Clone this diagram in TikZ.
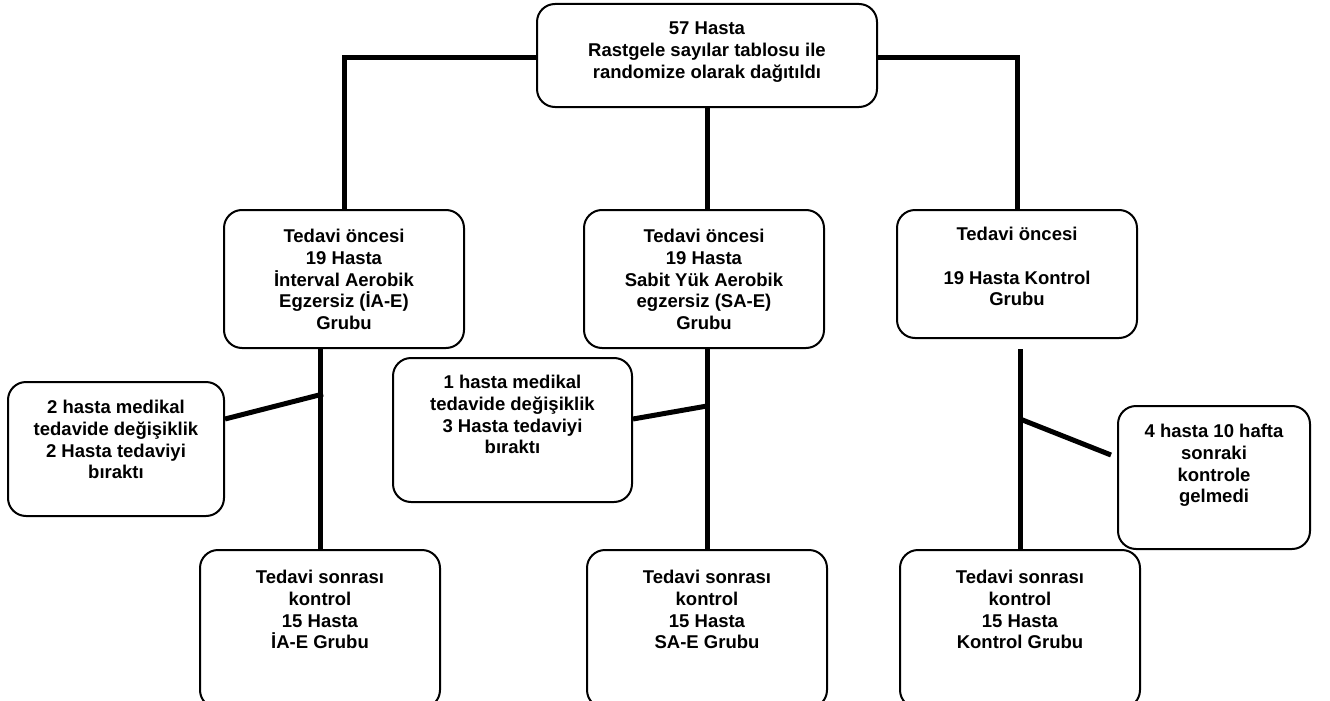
\documentclass[tikz,border=0pt]{standalone}
\usepackage{fontspec}
\setmainfont{Liberation Sans}
\usetikzlibrary{positioning}

\begin{document}
\begin{tikzpicture}[x=1pt,y=-1pt,
    kutu/.style={draw, line width=2pt, rounded corners=18pt, inner sep=0pt},
    yazi/.style={align=center, inner sep=0pt, font=\fontsize{18.5}{21.7}\selectfont\bfseries},
    baglanti/.style={line width=5pt},
]

\useasboundingbox (0,0) rectangle (1330,701);
\clip (0,0) rectangle (1330,701);

% kutular
\node[kutu, minimum width=340pt, minimum height=103pt] (rand) at (707,55.5) {};
\node[kutu, minimum width=240pt, minimum height=138pt] (iae1) at (344,279) {};
\node[kutu, minimum width=240pt, minimum height=138pt] (sae1) at (704,279) {};
\node[kutu, minimum width=240pt, minimum height=128pt] (kon1) at (1017,274) {};
\node[kutu, minimum width=216pt, minimum height=134pt] (yan1) at (116,449) {};
\node[kutu, minimum width=239pt, minimum height=144pt] (yan2) at (512.5,430) {};
\node[kutu, minimum width=192pt, minimum height=143pt] (yan3) at (1214,477.5) {};
\node[kutu, minimum width=240pt, minimum height=158pt] (iae2) at (320,629) {};
\node[kutu, minimum width=240pt, minimum height=158pt] (sae2) at (707,629) {};
\node[kutu, minimum width=240pt, minimum height=158pt] (kon2) at (1020,629) {};

% yazilar
\node[yazi, below=19pt of rand.north] (randy) {57 Hasta\\Rastgele sayılar tablosu ile\\randomize olarak dağıtıldı};
\node[yazi, below=20pt of iae1.north] (iae1y) {Tedavi öncesi\\19 Hasta\\İnterval Aerobik\\Egzersiz (İA-E)\\Grubu};
\node[yazi, below=20pt of sae1.north] (sae1y) {Tedavi öncesi\\19 Hasta\\Sabit Yük Aerobik\\egzersiz (SA-E)\\Grubu};
\node[yazi, below=18pt of kon1.north] (kon1y) {Tedavi öncesi\\[21.7pt]19 Hasta Kontrol\\Grubu};
\node[yazi, below=19pt of yan1.north] (yan1y) {2 hasta medikal\\tedavide değişiklik\\2 Hasta tedaviyi\\bıraktı};
\node[yazi, below=18pt of yan2.north] (yan2y) {1 hasta medikal\\tedavide değişiklik\\3 Hasta tedaviyi\\bıraktı};
\node[yazi, below=19pt of yan3.north] (yan3y) {4 hasta 10 hafta\\sonraki\\kontrole\\gelmedi};
\node[yazi, below=21pt of iae2.north] (iae2y) {Tedavi sonrası\\kontrol\\15 Hasta\\İA-E Grubu};
\node[yazi, below=21pt of sae2.north] (sae2y) {Tedavi sonrası\\kontrol\\15 Hasta\\SA-E Grubu};
\node[yazi, below=21pt of kon2.north] (kon2y) {Tedavi sonrası\\kontrol\\15 Hasta\\Kontrol Grubu};

% baglantilar
\draw[baglanti] ([yshift=-2.5pt]rand.west) -| (iae1.north);
\draw[baglanti] ([yshift=-2.5pt]rand.east) -| (kon1.north);
\draw[baglanti] (rand.south) -- (rand.south |- sae1.north);

\draw[baglanti] (iae2.north) -- (iae2.north |- iae1.south);
\draw[baglanti] (sae2.north) -- (sae2.north |- sae1.south);
\coordinate (k3ust) at ([yshift=-10pt]kon2.north |- kon1.south);
\draw[baglanti] (k3ust) -- (k3ust |- kon2.north);

\coordinate (k1) at (323,394);
\coordinate (k2) at (707,406);
\coordinate (k3) at (1020,419);
\draw[baglanti] ([yshift=30pt]yan1.east) -- (k1);
\draw[baglanti] ([yshift=11pt]yan2.east) -- (k2);
\draw[baglanti] (k3) -- ([xshift=-6pt,yshift=22.5pt]yan3.west);

\end{tikzpicture}
\end{document}
